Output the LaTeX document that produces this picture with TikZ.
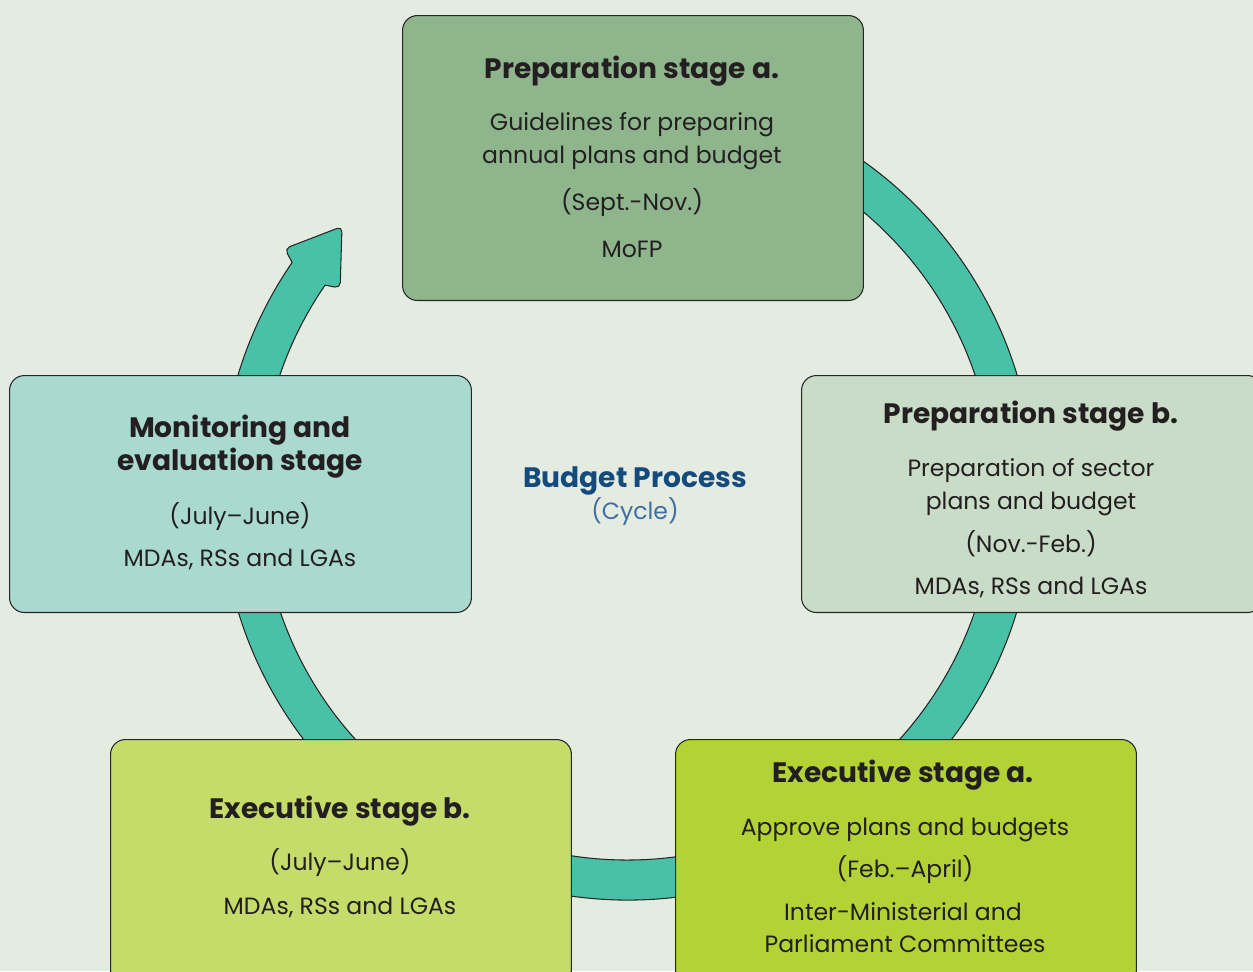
\documentclass[tikz,border=0pt]{standalone}
\usepackage{fontspec}
\setmainfont{Poppins}
\usetikzlibrary{positioning}

\definecolor{paper}{HTML}{E4ECE2}
\definecolor{ringcol}{HTML}{48C1A6}
\definecolor{prepa}{HTML}{8FB58D}
\definecolor{prepb}{HTML}{C9DCC7}
\definecolor{moneval}{HTML}{AADACF}
\definecolor{execb}{HTML}{C5DB6A}
\definecolor{execa}{HTML}{B2D235}
\definecolor{ink}{HTML}{231F20}
\definecolor{budblue}{HTML}{154A7C}
\definecolor{cycblue}{HTML}{3F6EA0}

\tikzset{
  stage/.style={draw=black!85,line width=0.6pt,rounded corners=8.5pt,
    anchor=north west,inner sep=0pt,minimum width=9.22cm},
  stagetitle/.style={font=\fontsize{16}{19}\selectfont\bfseries,text=ink,anchor=mid,yshift=-0.11cm},
  stagetext/.style={font=\fontsize{13.4}{16}\selectfont,text=ink,anchor=mid,yshift=-0.1cm}
}

\begin{document}
\begin{tikzpicture}[x=0.02cm,y=-0.02cm]
        \useasboundingbox (0,0) rectangle (1253,971);
        \clip (0,0) rectangle (1253,971);
        \fill[paper] (0,0) rectangle (1253,971);

        % the cycle arrow
        \begin{scope}[shift={(627.5,493)}]
            \coordinate (tip) at (-285.5,-266.5);
            \filldraw[fill=ringcol,draw=black!85,line width=0.6pt]
                (-80:407) arc[start angle=-80,end angle=214.5,radius=407]
                [rounded corners=3pt] -- (215.5:421) -- (tip) -- (215.5:353)
                [sharp corners] -- (214.5:367)
                arc[start angle=214.5,end angle=-80,radius=367] -- cycle;
        \end{scope}

        % stages
        \node[stage,fill=prepa,minimum height=5.70cm] (pa) at (402,15) {};
        \node[stage,fill=prepb,minimum height=4.74cm] (pb) at (801,375) {};
        \node[stage,fill=moneval,minimum width=9.24cm,minimum height=4.74cm] (me) at (9,375) {};
        \node[stage,fill=execb,minimum height=4.90cm] (eb) at (110,739) {};
        \node[stage,fill=execa,minimum height=4.90cm] (ea) at (675,739) {};

        \node[stagetitle] (pa1) at (632,68) {Preparation stage a.};
        \node[stagetext] (pa2) at (632,121) {Guidelines for preparing};
        \node[stagetext] (pa3) at (632,154) {annual plans and budget};
        \node[stagetext] (pa4) at (632,201) {(Sept.-Nov.)};
        \node[stagetext] (pa5) at (632,248) {MoFP};

        \node[stagetitle] (pb1) at (1031,413) {Preparation stage b.};
        \node[stagetext] (pb2) at (1031,467) {Preparation of sector};
        \node[stagetext] (pb3) at (1031,500) {plans and budget};
        \node[stagetext] (pb4) at (1031,543) {(Nov.-Feb.)};
        \node[stagetext] (pb5) at (1031,585) {MDAs, RSs and LGAs};

        \node[stagetitle] (me1) at (240,427) {Monitoring and};
        \node[stagetitle] (me2) at (240,460) {evaluation stage};
        \node[stagetext] (me3) at (240,515) {(July–June)};
        \node[stagetext] (me4) at (240,557) {MDAs, RSs and LGAs};

        \node[stagetitle] (eb1) at (340,808) {Executive stage b.};
        \node[stagetext] (eb2) at (340,861) {(July–June)};
        \node[stagetext] (eb3) at (340,905) {MDAs, RSs and LGAs};

        \node[stagetitle] (ea1) at (903,772) {Executive stage a.};
        \node[stagetext] (ea2) at (905,826) {Approve plans and budgets};
        \node[stagetext] (ea3) at (905,868) {(Feb.–April)};
        \node[stagetext] (ea4) at (903,911) {Inter-Ministerial and};
        \node[stagetext] (ea5) at (905,943) {Parliament Committees};

        % centre label
        \node[stagetitle,text=budblue] (bp) at (635,477) {Budget Process};
        \node[stagetext,text=cycblue] (cy) at (635,510) {(Cycle)};
    \end{tikzpicture}
\end{document}
